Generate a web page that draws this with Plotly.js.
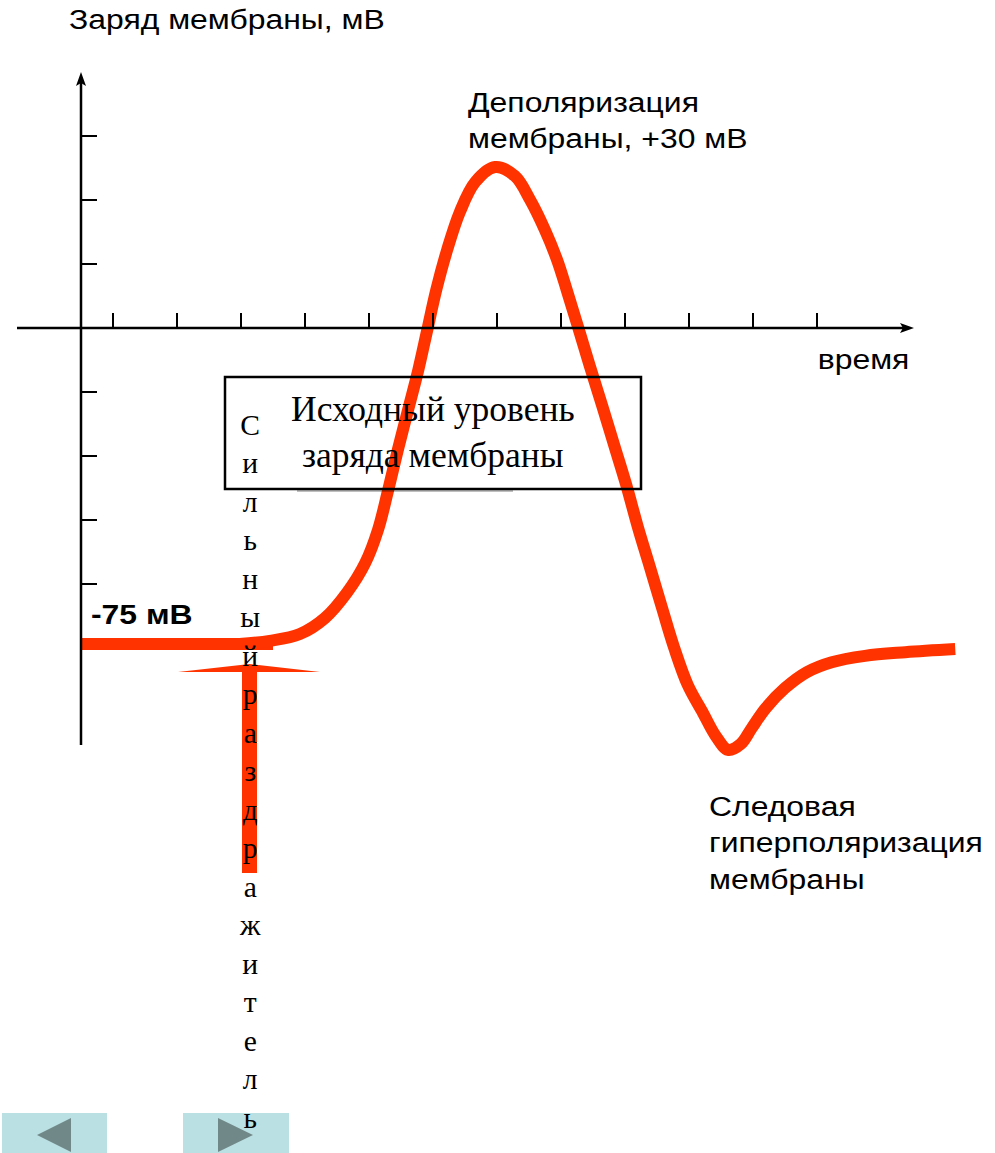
<!DOCTYPE html>
<html>
<head>
<meta charset="utf-8">
<script src="https://cdn.plot.ly/plotly-3.0.1.min.js"></script>
<style>
  html, body { margin: 0; padding: 0; background: #fff; }
  #chart { width: 995px; height: 1153px; }
</style>
</head>
<body>
<div id="chart"></div>
<script>
// Action potential of a membrane: voltage (mV) over time (one axis tick = one unit)
const restTime = [0, 3.0];
const restVoltage = [-75, -75];

const apTime = [2.48, 2.95, 3.42, 3.81, 4.16, 4.44, 4.64, 4.80, 4.95, 5.11, 5.27, 5.41,
  5.55, 5.72, 5.92, 6.16, 6.47, 6.78, 7.02, 7.25, 7.44, 7.59, 7.77, 7.95, 8.14, 8.33,
  8.52, 8.70, 8.89, 9.08, 9.27, 9.48, 9.72, 9.92, 10.11, 10.31, 10.48, 10.70, 11.00,
  11.34, 11.73, 12.25, 12.88, 13.66];
const apVoltage = [-75.0, -74.3, -72.8, -69.3, -63.6, -57.2, -49.9, -41.1, -32.3, -23.5, -14.7, -5.9,
  2.9, 11.7, 20.1, 26.7, 30.0, 28.0, 22.7, 16.1, 9.5, 2.9, -5.4, -13.8, -22.4, -31.2,
  -40.0, -49.2, -58.1, -67.1, -75.9, -84.0, -90.2, -95.3, -98.3, -97.0, -93.5, -89.1, -84.7,
  -81.2, -79.0, -77.6, -76.8, -76.1];

const timeTicks = [0.5, 1.5, 2.5, 3.5, 4.5, 5.5, 6.5, 7.5, 8.5, 9.5, 10.5, 11.5];

const yTitle = 'Заряд мембраны, мВ';
const xTitle = 'время';
const peakLabel = 'Деполяризация<br>мембраны, +30 мВ';
const restLabel = '-75 мВ';
const afterLabel = 'Следовая<br>гиперполяризация<br>мембраны';
const boxLabel = 'Исходный уровень<br>заряда мембраны';
const stimulusLabel = 'Сильный раздражитель';

// page geometry (the plot area is the whole page, so paper units map to pixels)
const W = 995, H = 1153;
const px = x => x / W;
const py = y => 1 - y / H;
const X_RANGE = [-1.2656, 14.2813];
const Y_RANGE = [-187.04, 66.76];
const MV_PER_PX = (Y_RANGE[1] - Y_RANGE[0]) / H;
const AXIS_Y = 328, AXIS_X = 81, TICK_STEP = 64;
const axisMv = Y_RANGE[1] - AXIS_Y * MV_PER_PX;
const voltTicks = [3, 2, 1, -1, -2, -3, -4].map(n => axisMv + n * TICK_STEP * MV_PER_PX);

const RED = '#FF3300';
const SANS = 'Liberation Sans, Arial, sans-serif';
const SERIF = 'Liberation Serif, Times New Roman, serif';
const SANS_STRETCH = 1.14;   // the captions use a slightly widened sans face

const traces = [
  { x: restTime, y: restVoltage, type: 'scatter', mode: 'lines',
    line: { color: RED, width: 12 }, hoverinfo: 'skip' },
  { x: apTime, y: apVoltage, type: 'scatter', mode: 'lines',
    line: { color: RED, width: 12, shape: 'spline', smoothing: 1 }, hoverinfo: 'skip' }
];

const shapes = [
  // coordinate axes with arrow heads
  { type: 'line', xref: 'paper', yref: 'paper', x0: px(AXIS_X), x1: px(AXIS_X), y0: py(82), y1: py(745),
    line: { color: '#000', width: 2.5 } },
  { type: 'path', xref: 'paper', yref: 'paper', fillcolor: '#000', line: { width: 0 },
    path: `M${px(81)},${py(72)} L${px(76)},${py(86)} L${px(81)},${py(83)} L${px(86)},${py(86)} Z` },
  { type: 'line', xref: 'paper', yref: 'paper', x0: px(17), x1: px(904), y0: py(AXIS_Y), y1: py(AXIS_Y),
    line: { color: '#000', width: 2.5 } },
  { type: 'path', xref: 'paper', yref: 'paper', fillcolor: '#000', line: { width: 0 },
    path: `M${px(914)},${py(328)} L${px(900)},${py(323)} L${px(903)},${py(328)} L${px(900)},${py(333)} Z` },
  // stimulus arrow
  { type: 'rect', xref: 'paper', yref: 'paper', x0: px(242), x1: px(257), y0: py(671), y1: py(873),
    fillcolor: RED, line: { width: 0 } },
  { type: 'path', xref: 'paper', yref: 'paper', fillcolor: RED, line: { width: 0 },
    path: `M${px(178)},${py(672)} L${px(249.5)},${py(664)} L${px(320)},${py(672)} Z` },
  // label box
  { type: 'line', xref: 'paper', yref: 'paper', x0: px(297), x1: px(513), y0: py(491), y1: py(491),
    line: { color: 'rgba(0,0,0,0.25)', width: 2 } },
  { type: 'rect', xref: 'paper', yref: 'paper', x0: px(225), x1: px(641), y0: py(377), y1: py(489),
    line: { color: '#000', width: 2.5 }, fillcolor: 'rgba(0,0,0,0)' },
  // navigation buttons
  { type: 'rect', xref: 'paper', yref: 'paper', x0: px(2), x1: px(107), y0: py(1113), y1: py(1153),
    fillcolor: '#BAE0E3', line: { width: 0 } },
  { type: 'rect', xref: 'paper', yref: 'paper', x0: px(183), x1: px(289), y0: py(1113), y1: py(1153),
    fillcolor: '#BAE0E3', line: { width: 0 } },
  { type: 'path', xref: 'paper', yref: 'paper', fillcolor: '#718889', line: { width: 0 },
    path: `M${px(37)},${py(1135)} L${px(71)},${py(1118)} L${px(71)},${py(1152)} Z` },
  { type: 'path', xref: 'paper', yref: 'paper', fillcolor: '#718889', line: { width: 0 },
    path: `M${px(253)},${py(1135)} L${px(218)},${py(1118)} L${px(218)},${py(1152)} Z` }
];

const note = (text, x, y, xanchor, size, family) => ({
  text, xref: 'paper', yref: 'paper', x: px(x), y: py(y), xanchor, yanchor: 'middle',
  showarrow: false, align: xanchor === 'center' ? 'center' : 'left',
  font: { family: family || SANS, size, color: '#000' }
});

const annotations = [
  note(yTitle, 67, 20, 'left', 28),
  note(peakLabel, 466, 121, 'left', 28),
  note(xTitle, 911, 360, 'right', 28),
  note('<b>' + restLabel + '</b>', 89, 614, 'left', 28),
  note(afterLabel, 707, 843, 'left', 28),
  note(boxLabel, 433, 432, 'center', 35.5, SERIF),
  note(stimulusLabel.replace(' ', '').split('').join('<br>'), 249.5, 771, 'center', 29.6, SERIF)
];
const stretched = [0, 1, 2, 3, 4];

const layout = {
  width: W, height: H,
  margin: { l: 0, r: 0, t: 0, b: 0, pad: 0 },
  paper_bgcolor: '#fff', plot_bgcolor: '#fff',
  showlegend: false,
  xaxis: { range: X_RANGE, anchor: 'free', position: py(AXIS_Y), showline: false, zeroline: false,
    showgrid: false, tickvals: timeTicks, ticks: 'inside', ticklen: 15, tickwidth: 2.5,
    tickcolor: '#000', showticklabels: false, fixedrange: true },
  yaxis: { range: Y_RANGE, anchor: 'free', position: px(AXIS_X), showline: false, zeroline: false,
    showgrid: false, tickvals: voltTicks, ticks: 'inside', ticklen: 15, tickwidth: 2.5,
    tickcolor: '#000', showticklabels: false, fixedrange: true },
  shapes, annotations
};

Plotly.newPlot('chart', traces, layout, { staticPlot: true, displayModeBar: false }).then(gd => {
  // widen the sans captions horizontally, keeping their anchored edge in place
  gd.querySelectorAll('g.annotation').forEach(g => {
    const i = +g.getAttribute('data-index');
    if (!stretched.includes(i)) return;
    const t = g.querySelector('text.annotation-text');
    if (!t) return;
    const b = t.getBBox();
    const a = annotations[i].xanchor;
    const ox = a === 'left' ? b.x : a === 'right' ? b.x + b.width : b.x + b.width / 2;
    t.setAttribute('transform',
      `translate(${ox},0) scale(${SANS_STRETCH},1) translate(${-ox},0)`);
  });
});
</script>
</body>
</html>
